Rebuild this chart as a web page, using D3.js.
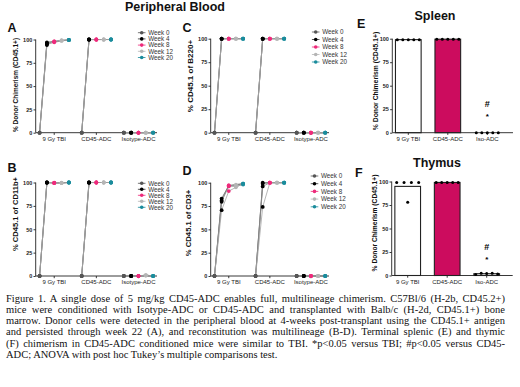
<!DOCTYPE html>
<html>
<head>
<meta charset="utf-8">
<script src="https://cdn.jsdelivr.net/npm/d3@7"></script>
<style>
  body { margin: 0; background: #fff; }
  #fig { position: absolute; left: 0; top: 0; }
  #caption {
    position: absolute; left: 6px; top: 292.5px; width: 499px;
    font-family: "Liberation Serif", "Times New Roman", serif;
    font-size: 10.5px; line-height: 11.3px; color: #111;
  }
  #caption div { text-align: justify; text-align-last: justify; white-space: nowrap; }
  #caption div.last { text-align-last: left; }
</style>
</head>
<body>
<svg id="fig" width="520" height="290"></svg>
<div id="caption"></div>
<script>
// weeks plotted in the blood panels, one marker colour each
const weeks = ["Week 0", "Week 4", "Week 8", "Week 12", "Week 20"];
const bloodGroups = ["9 Gy TBI", "CD45-ADC", "Isotype-ADC"];
const organGroups = ["9 Gy TBI", "CD45-ADC", "Iso-ADC"];
const yTicks = [0, 25, 50, 75, 100];

// per mouse values across weeks 0,4,8,12,20 -- [TBI, CD45-ADC, Isotype]
const donorA = [
  [[0, 97, 98, 99, 99.5], [0, 96, 97.5, 99, 99.5], [0, 95, 97, 98.5, 99.5], [0, 94, 98, 99, 99.5]],
  [[0, 100, 100, 100, 100], [0, 99.8, 100, 100, 100], [0, 100, 99.8, 100, 100], [0, 100, 100, 99.8, 100]],
  [[0, 0, 0, 0, 0], [0, 0, 0, 0, 0], [0, 0, 0, 0, 0], [0, 0, 0, 0, 0]]
];
const cd11bB = [
  [[0, 100, 99.5, 99.5, 100], [0, 100, 99.5, 99.8, 100], [0, 99.8, 99.5, 99.5, 100], [0, 100, 99.8, 99.5, 100]],
  [[0, 100, 100, 100, 100], [0, 100, 100, 100, 100], [0, 99.8, 100, 100, 100], [0, 100, 100, 100, 100]],
  [[0, 0, 0, 1, 0], [0, 0, 0, 0.5, 0], [0, 0, 0, 1, 0], [0, 0, 0, 0.5, 0]]
];
const b220C = [
  [[0, 100, 100, 100, 100], [0, 100, 100, 100, 100], [0, 99.8, 100, 100, 100], [0, 100, 100, 100, 100]],
  [[0, 100, 100, 100, 100], [0, 100, 100, 100, 100], [0, 99.8, 100, 100, 100], [0, 100, 100, 100, 100]],
  [[0, 0, 0, 0, 0], [0, 0, 0, 0, 0], [0, 0, 0, 0, 0], [0, 0, 0, 0, 0]]
];
const cd3D = [
  [[0, 83, 97, 98, 99], [0, 81, 96, 97, 99], [0, 79.5, 97, 96, 98], [0, 70.5, 91, 95, 99]],
  [[0, 100, 100, 100, 100], [0, 99, 100, 100, 100], [0, 96, 100, 100, 100], [0, 74, 100, 100, 100]],
  [[0, 0, 0, 0, 0], [0, 0, 0, 0, 0], [0, 0, 0, 0, 0], [0, 0, 0, 0, 0]]
];

// terminal organ chimerism, one value per mouse -- [TBI, CD45-ADC, Iso-ADC]
const spleenE = [[99, 99, 99, 99, 99], [99.5, 99.5, 99.5, 99.5, 99.5], [0, 0, 0, 0, 0]];
const thymusF = [[99, 99, 99, 99, 78], [99, 99, 99, 99, 99], [1, 2.5, 2, 2.5, 1.5]];
const sigMarks = ["*", "#"];

const captionLines = [
  "Figure 1. A single dose of 5 mg/kg CD45-ADC enables full, multilineage chimerism. C57Bl/6 (H-2b, CD45.2+)",
  "mice were conditioned with Isotype-ADC or CD45-ADC and transplanted with Balb/c (H-2d, CD45.1+) bone",
  "marrow. Donor cells were detected in the peripheral blood at 4-weeks post-transplant using the CD45.1+ antigen",
  "and persisted through week 22 (A), and reconstitution was multilineage (B-D). Terminal splenic (E) and thymic",
  "(F) chimerism in CD45-ADC conditioned mice were similar to TBI. *p<0.05 versus TBI; #p<0.05 versus CD45-",
  "ADC; ANOVA with post hoc Tukey\u2019s multiple comparisons test."
];

const weekColors = ["#555555", "#000000", "#ee2a7b", "#b5b5b5", "#1a8c9c"];
const mouseLine = ["#555", "#777", "#8c8c8c", "#a5a5a5"];
const font = '"Liberation Sans", Arial, sans-serif';

const svg = d3.select('#fig');

function text(x, y, s, size, weight, anchor) {
  return svg.append('text')
    .attr('x', x).attr('y', y)
    .attr('font-family', font)
    .attr('font-size', size)
    .attr('font-weight', weight || 'normal')
    .attr('text-anchor', anchor || 'start')
    .attr('fill', '#111')
    .text(s);
}

function axes(g, x, y, w, h) {
  const ya = g.append('g')
    .call(d3.axisLeft(y).tickValues(yTicks).tickSize(2.2).tickPadding(1.2).tickSizeOuter(0));
  const xa = g.append('g')
    .attr('transform', `translate(0, ${h})`)
    .call(d3.axisBottom(x).tickSize(2.2).tickPadding(1.6).tickSizeOuter(0));
  xa.select('.domain').attr('d', `M0,0H${w}`);
  ya.select('.domain').attr('d', `M0,${h}V0`);
  [ya, xa].forEach(a => {
    a.selectAll('path, line').attr('stroke', '#222').attr('stroke-width', 0.9);
    a.selectAll('text').attr('font-family', font).attr('fill', '#222');
  });
  ya.selectAll('text').attr('font-size', 5.5).attr('font-weight', 'bold');
  xa.selectAll('text').attr('font-size', 6);
}

function bloodPanel(p) {
  const w = p.w, h = p.h;
  const g = svg.append('g').attr('transform', `translate(${p.left}, ${p.top})`);
  const y = d3.scaleLinear().domain([0, 100]).range([h, 0]);
  const x = d3.scaleBand().domain(bloodGroups).range([0, w]).paddingInner(0.2).paddingOuter(0.04);
  const xw = d3.scalePoint().domain(weeks).range([0, x.bandwidth()]).padding(0.3);

  axes(g, x, y, w, h);

  const line = d3.line()
    .x((v, i) => xw(weeks[i]))
    .y(v => y(v));

  p.data.forEach((mice, gi) => {
    const gg = g.append('g').attr('transform', `translate(${x(bloodGroups[gi])}, 0)`);
    gg.selectAll('path.mouse').data(mice).join('path')
      .attr('class', 'mouse')
      .attr('fill', 'none')
      .attr('stroke', (d, i) => mouseLine[i % mouseLine.length])
      .attr('stroke-width', 0.8)
      .attr('d', line);
    weeks.forEach((wk, wi) => {
      gg.selectAll(null).data(mice).join('circle')
        .attr('cx', xw(wk))
        .attr('cy', d => y(d[wi]))
        .attr('r', 1.9)
        .attr('fill', weekColors[wi]);
    });
  });

  // legend
  const lg = svg.append('g').attr('transform', `translate(${p.legX}, ${p.legY})`);
  weeks.forEach((wk, i) => {
    const row = lg.append('g').attr('transform', `translate(0, ${i * p.legStep})`);
    row.append('line').attr('x1', -3.8).attr('x2', 3.8)
      .attr('stroke', weekColors[i] === '#000000' ? '#333' : weekColors[i]).attr('stroke-width', 0.8);
    row.append('circle').attr('r', 1.8).attr('fill', weekColors[i]);
    row.append('text').attr('x', 6.5).attr('y', 2.2)
      .attr('font-family', font).attr('font-size', 6.3).attr('fill', '#333')
      .text(wk);
  });

  text(p.labX, p.labY, p.label, p.labSize, 'bold', 'middle')
    .attr('transform', `rotate(-90, ${p.labX}, ${p.labY})`)
    .attr('dominant-baseline', 'central');
  text(p.letterX, p.letterY, p.letter, 12.5, 'bold');
}

function spread(vals) {
  // place mice side by side when their values overlap
  const off = new Array(vals.length).fill(0);
  const used = new Array(vals.length).fill(false);
  vals.forEach((v, i) => {
    if (used[i]) return;
    const grp = vals.map((u, j) => j).filter(j => !used[j] && Math.abs(vals[j] - v) < 4);
    grp.forEach(j => used[j] = true);
    const n = grp.length;
    grp.forEach((j, k) => off[j] = n > 1 ? (k - (n - 1) / 2) * (22 / (n - 1)) : 0);
  });
  return off;
}

function organPanel(p) {
  const w = p.w, h = p.h;
  const g = svg.append('g').attr('transform', `translate(${p.left}, ${p.top})`);
  const y = d3.scaleLinear().domain([0, 100]).range([h, 0]);
  const x = d3.scaleBand().domain(organGroups).range([0, 111]).paddingInner(0.35).paddingOuter(0.08);
  const barFill = ['#ffffff', '#cc0c5e', '#ffffff'];

  g.selectAll('rect').data(p.data).join('rect')
    .attr('x', (d, i) => x(organGroups[i]))
    .attr('width', x.bandwidth())
    .attr('y', d => y(d3.mean(d)))
    .attr('height', d => h - y(d3.mean(d)))
    .attr('fill', (d, i) => barFill[i])
    .attr('stroke', '#222')
    .attr('stroke-width', 1.1);

  axes(g, x, y, w, h);

  p.data.forEach((vals, gi) => {
    const cx = x(organGroups[gi]) + x.bandwidth() / 2;
    const off = spread(vals);
    g.selectAll(null).data(vals).join('circle')
      .attr('cx', (d, i) => cx + off[i])
      .attr('cy', d => y(d))
      .attr('r', 1.5)
      .attr('fill', '#000');
  });

  const cx = x(organGroups[2]) + x.bandwidth() / 2;
  g.append('text').attr('x', cx).attr('y', y(19) + 4.2)
    .attr('text-anchor', 'middle').attr('font-family', font)
    .attr('font-size', 8).attr('font-weight', 'bold').text(sigMarks[0]);
  g.append('text').attr('x', cx).attr('y', y(31) + 3.5)
    .attr('text-anchor', 'middle').attr('font-family', font)
    .attr('font-size', 9).attr('font-weight', 'bold').text(sigMarks[1]);

  text(p.labX, p.labY, p.label, p.labSize, 'bold', 'middle')
    .attr('transform', `rotate(-90, ${p.labX}, ${p.labY})`)
    .attr('dominant-baseline', 'central');
  text(p.letterX, p.letterY, p.letter, 12.5, 'bold');
  text(p.titleX, p.titleY, p.title, 12.5, 'bold', 'middle');
}

text(175, 10.5, "Peripheral Blood", 12.5, 'bold', 'middle');

bloodPanel({ data: donorA, left: 35.7, top: 39.5, w: 121.3, h: 93.2,
  legX: 141.7, legY: 32.7, legStep: 6.2,
  label: "% Donor Chimerism (CD45.1+)", labX: 15, labY: 85, labSize: 6.5,
  letter: "A", letterX: 7.5, letterY: 32 });
bloodPanel({ data: cd11bB, left: 35.7, top: 182.5, w: 121.3, h: 93.5,
  legX: 141.7, legY: 183.3, legStep: 6,
  label: "% CD45.1 of CD11b+", labX: 15, labY: 214, labSize: 7.6,
  letter: "B", letterX: 7.5, letterY: 171.7 });
bloodPanel({ data: b220C, left: 210.7, top: 38.7, w: 118.3, h: 94,
  legX: 315.7, legY: 32, legStep: 7.5,
  label: "% CD45.1 of B220+", labX: 190, labY: 76, labSize: 8,
  letter: "C", letterX: 182.5, letterY: 31.7 });
bloodPanel({ data: cd3D, left: 210.7, top: 182.7, w: 118.3, h: 93.3,
  legX: 314.5, legY: 176, legStep: 7.7,
  label: "% CD45.1 of CD3+", labX: 188.3, labY: 223, labSize: 7.7,
  letter: "D", letterX: 182.5, letterY: 175 });

organPanel({ data: spleenE, left: 392.3, top: 38.7, w: 120.7, h: 94,
  label: "% Donor Chimerism (CD45.1+)", labX: 375, labY: 81, labSize: 6.8,
  letter: "E", letterX: 357, letterY: 28.3,
  title: "Spleen", titleX: 435, titleY: 19.5 });
organPanel({ data: thymusF, left: 391.7, top: 181.5, w: 121, h: 94,
  label: "% Donor Chimerism (CD45.1+)", labX: 374, labY: 223, labSize: 6.7,
  letter: "F", letterX: 355, letterY: 177,
  title: "Thymus", titleX: 437, titleY: 167 });

d3.select('#caption').selectAll('div').data(captionLines).join('div')
  .attr('class', (d, i) => i === captionLines.length - 1 ? 'last' : null)
  .text(d => d);
</script>
</body>
</html>
